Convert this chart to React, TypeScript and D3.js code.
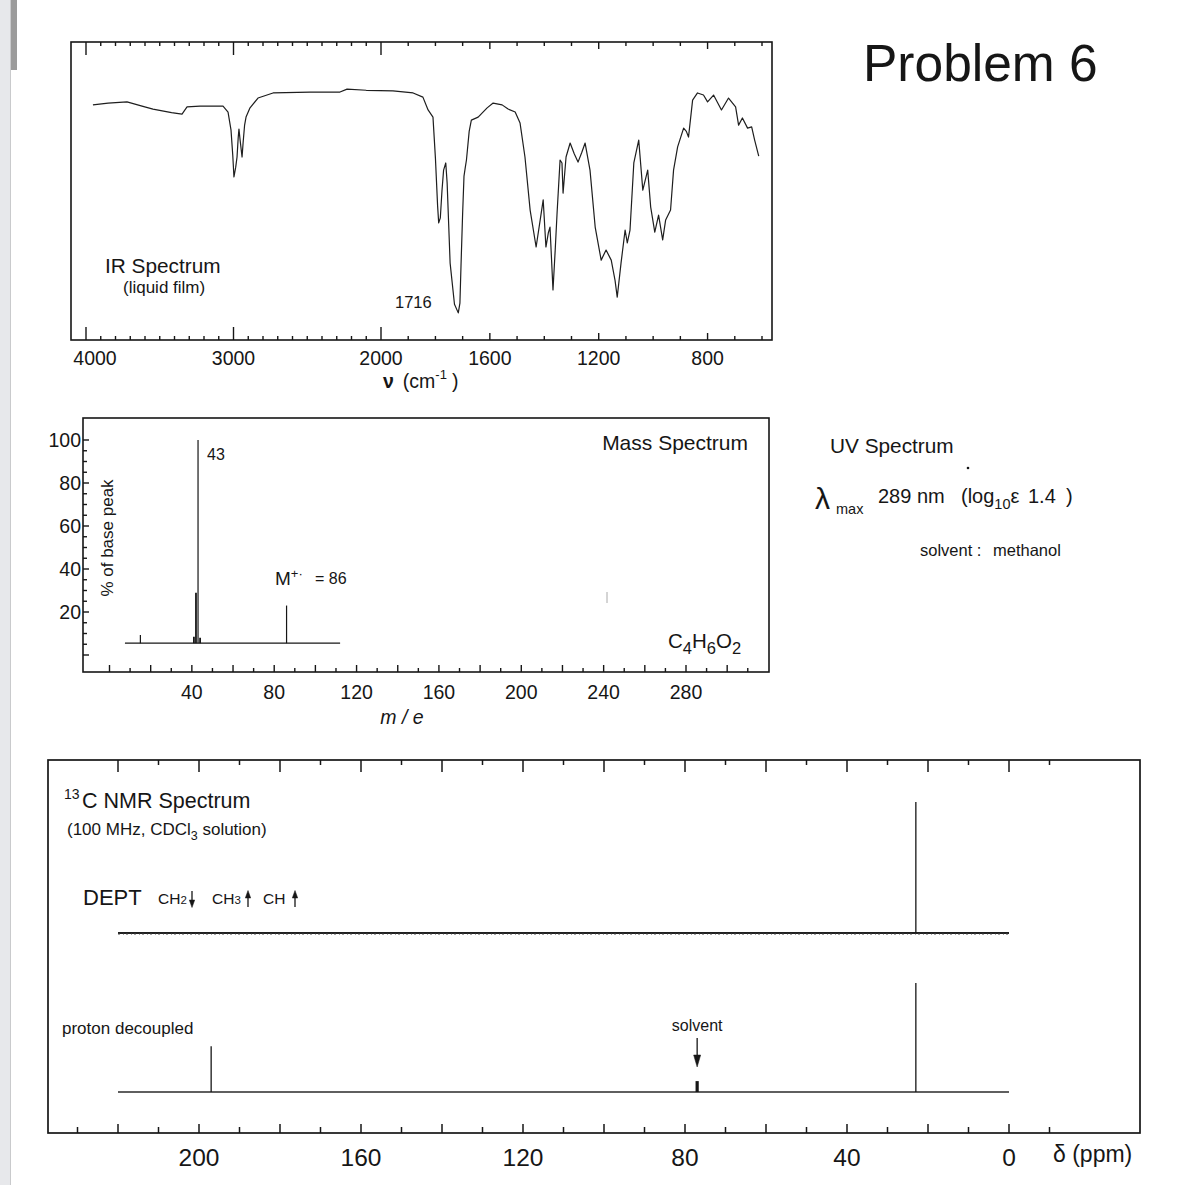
import React from "react";
import * as d3 from "d3";

// ---------- IR spectrum data (wavenumber cm-1, % transmittance) ----------
const irWavenumbers = [
  3953, 3850, 3722, 3620, 3546, 3420, 3349, 3315, 3227, 3071, 3037, 3017, 3005, 2997, 2985, 2976,
  2968, 2963, 2955, 2942, 2935, 2925, 2915, 2888, 2834, 2732, 2481, 2278, 2230, 2100, 1956, 1882,
  1846, 1827, 1809, 1800, 1792, 1788, 1782, 1776, 1770, 1762, 1757, 1746, 1730, 1716, 1710, 1706,
  1700, 1695, 1690, 1686, 1676, 1668, 1643, 1610, 1588, 1555, 1533, 1507, 1489, 1471, 1452, 1430,
  1415, 1404, 1394, 1385, 1379, 1368, 1360, 1353, 1342, 1335, 1331, 1320, 1305, 1290, 1276, 1262,
  1250, 1232, 1213, 1191, 1173, 1154, 1140, 1132, 1118, 1103, 1095, 1085, 1071, 1053, 1038, 1020,
  1009, 994, 980, 965, 954, 936, 925, 910, 888, 878, 870, 855, 837, 815, 800, 778, 749, 723, 697,
  686, 672, 653, 638, 627, 612,
];
const irTransmittance = [
  78.9, 79.5, 79.9, 78.5, 77.5, 76.3, 75.8, 78.2, 78.5, 78.5, 76.5, 70.5, 62, 54.7, 58, 61.4,
  68, 70.8, 67, 61.4, 66.1, 72, 74.8, 77.9, 81.2, 82.9, 83.2, 83.2, 84.2, 83.8, 83.6, 82.9,
  81.5, 77.2, 74.8, 61, 45, 39.3, 41, 50, 57.0, 59.4, 52.7, 25.8, 12, 9.1, 12.4, 25,
  42.6, 55, 58.1, 60.4, 70, 73.8, 74.8, 77.9, 79.5, 78.9, 77.5, 76.5, 72.8, 61.4, 43.6, 31.2,
  40.3, 47.0, 31.2, 36, 37.9, 16.8, 30, 42.6, 60.4, 59.4, 49.3, 61.4, 66.1, 62.5, 59.7, 63,
  66.1, 57.0, 37.9, 26.8, 30.2, 26.8, 20, 14.4, 25.8, 36.9, 32.6, 36.9, 59.4, 67.1, 50.3, 57.0,
  44.6, 36.2, 41.9, 33.6, 40.3, 43.6, 57.0, 64.8, 71.1, 70.0, 68.1, 80.5, 82.9, 82.2, 79.9, 82.2, 77.2, 81.2, 78.2,
  72.1, 74.5, 71.1, 71.5, 67.1, 61.7,
];
const irTickLabels = [4000, 3000, 2000, 1600, 1200, 800];
const irMajorTicks = [4000, 3000, 2000];
const irMediumTicks = [1600, 1200, 800];

// ---------- Mass spectrum data ----------
const msMz = [15, 41, 42, 43, 44, 86];
const msIntensity = [9.3, 8.5, 29, 100, 8, 23];
const msBaselineRange = [7.5, 112];
const msBaselineLevel = 5.5;
const msXTickLabels = [40, 80, 120, 160, 200, 240, 280];
const msYTickLabels = [20, 40, 60, 80, 100];

// ---------- 13C NMR data ----------
const nmrTickLabels = [200, 160, 120, 80, 40, 0];
const nmrBaselineRange = [220, 0];
const deptShifts = [23.0];
const deptIntensity = [100];
const decoupledShifts = [197.0, 77.0, 23.0];
const decoupledIntensity = [42, 10, 100];
const decoupledIsSolvent = [false, true, false];

const FONT = "'Liberation Sans', Arial, Helvetica, sans-serif";
const INK = "#161616";

export default function App() {
  // IR scales
  const irX = d3.scaleLinear().domain([4000, 2000, 600]).range([86, 381, 762]);
  const irY = d3.scaleLinear().domain([0, 100]).range([340, 42]);
  const irBox = { x0: 71, x1: 772, y0: 42, y1: 340 };
  const irLine = d3
    .line<[number, number]>()
    .x((d) => irX(d[0]))
    .y((d) => irY(d[1]));
  const irPath = irLine(irWavenumbers.map((w, i) => [w, irTransmittance[i]] as [number, number])) || "";
  const irTicks = d3.range(4000, 599, -100);

  // Mass spec scales
  const msX = d3.scaleLinear().domain([0, 280]).range([109.5, 686]);
  const msY = d3.scaleLinear().domain([0, 100]).range([655, 440]);
  const msBox = { x0: 83, x1: 769, y0: 418, y1: 672 };
  const msXTicks = d3.range(0, 311, 10);
  const msYTicks = d3.range(0, 101, 5);

  // NMR scales
  const nmrX = d3.scaleLinear().domain([200, 0]).range([199, 1009]);
  const deptY = d3.scaleLinear().domain([0, 100]).range([933, 802]);
  const decY = d3.scaleLinear().domain([0, 100]).range([1092, 983]);
  const nmrBox = { x0: 48, x1: 1140, y0: 760, y1: 1133 };
  const nmrBottomTicks = d3.range(230, -11, -10);
  const nmrTopTicks = d3.range(220, -11, -10);

  return (
    <svg
      width={1200}
      height={1185}
      viewBox="0 0 1200 1185"
      style={{ position: "absolute", left: 0, top: 0, background: "#fff" }}
      fontFamily={FONT}
    >
      <rect x={0} y={0} width={1200} height={1185} fill="#fff" />
      {/* scanner edge */}
      <rect x={0} y={0} width={10} height={1185} fill="#e7e8eb" />
      <line x1={10.5} x2={10.5} y1={0} y2={1185} stroke="#c9cacc" strokeWidth={1} />
      <rect x={11} y={0} width={6} height={70} fill="#222" opacity={0.45} />

      {/* Title */}
      <text x={863} y={81} fontSize={51.5} fill={INK}>Problem 6</text>

      {/* ================= IR ================= */}
      <rect x={irBox.x0} y={irBox.y0} width={irBox.x1 - irBox.x0} height={irBox.y1 - irBox.y0}
        fill="none" stroke={INK} strokeWidth={1.6} />
      {irTicks.map((t) => {
        const len = irMajorTicks.includes(t) ? 13 : irMediumTicks.includes(t) ? 7 : 4;
        const x = irX(t);
        return (
          <g key={"irt" + t}>
            <line x1={x} x2={x} y1={irBox.y0} y2={irBox.y0 + len} stroke={INK} strokeWidth={1.4} />
            <line x1={x} x2={x} y1={irBox.y1} y2={irBox.y1 - len} stroke={INK} strokeWidth={1.4} />
          </g>
        );
      })}
      <path d={irPath} fill="none" stroke="#1e1e1e" strokeWidth={1.2} strokeLinejoin="round" />
      {irTickLabels.map((t, i) => (
        <text key={"irl" + t} x={irX(t) + (i === 0 ? 9 : 0)} y={365} fontSize={19.5}
          textAnchor="middle" fill={INK}>{t}</text>
      ))}
      <text x={383} y={388} fontSize={19.5} fill={INK}>
        <tspan fontWeight="bold">ν</tspan>
        <tspan dx={9}>(cm</tspan>
        <tspan dy={-9} fontSize={13}>-1</tspan>
        <tspan dy={9} dx={5}>)</tspan>
      </text>
      <text x={105} y={273} fontSize={20.8} fill={INK}>IR Spectrum</text>
      <text x={123} y={293} fontSize={17} fill={INK}>(liquid film)</text>
      <text x={395} y={308} fontSize={16.5} fill={INK}>1716</text>

      {/* ================= Mass spectrum ================= */}
      <rect x={msBox.x0} y={msBox.y0} width={msBox.x1 - msBox.x0} height={msBox.y1 - msBox.y0}
        fill="none" stroke={INK} strokeWidth={1.6} />
      {msXTicks.map((t) => {
        const len = t % 20 === 0 ? 7 : 4;
        const x = msX(t);
        return <line key={"msx" + t} x1={x} x2={x} y1={msBox.y1} y2={msBox.y1 - len} stroke={INK} strokeWidth={1.4} />;
      })}
      {msYTicks.map((t) => {
        const len = t % 20 === 0 ? 6 : 4;
        const y = msY(t);
        return <line key={"msy" + t} x1={msBox.x0} x2={msBox.x0 + len} y1={y} y2={y} stroke={INK} strokeWidth={1.4} />;
      })}
      {msYTickLabels.map((t) => (
        <text key={"msyl" + t} x={81} y={msY(t) + 7} fontSize={19.5} textAnchor="end" fill={INK}>{t}</text>
      ))}
      {msXTickLabels.map((t) => (
        <text key={"msxl" + t} x={msX(t)} y={699} fontSize={19.5} textAnchor="middle" fill={INK}>{t}</text>
      ))}
      <text x={402} y={724} fontSize={19.5} fontStyle="italic" textAnchor="middle" fill={INK}>m / e</text>
      <text transform="translate(113,538) rotate(-90)" fontSize={17} textAnchor="middle" fill={INK}>% of base peak</text>
      <line x1={msX(msBaselineRange[0])} x2={msX(msBaselineRange[1])} y1={msY(msBaselineLevel)} y2={msY(msBaselineLevel)}
        stroke={INK} strokeWidth={1.3} />
      {msMz.map((m, i) => (
        <line key={"msp" + m} x1={msX(m)} x2={msX(m)} y1={msY(msBaselineLevel)} y2={msY(msIntensity[i])}
          stroke={INK} strokeWidth={m === 42 || m === 41 || m === 44 ? 1.8 : 1.2} />
      ))}
      <text x={207} y={460} fontSize={16} fill={INK}>43</text>
      <text x={275} y={585} fontSize={19} fill={INK}>
        M<tspan dy={-7} fontSize={13}>+·</tspan>
      </text>
      <text x={315} y={584} fontSize={16} fill={INK}>= 86</text>
      <text x={748} y={450} fontSize={21} textAnchor="end" fill={INK}>Mass Spectrum</text>
      <text x={668} y={648} fontSize={20.5} fill={INK}>
        C<tspan fontSize={16.5} dy={6}>4</tspan>
        <tspan dy={-6}>H</tspan>
        <tspan fontSize={16.5} dy={6}>6</tspan>
        <tspan dy={-6}>O</tspan>
        <tspan fontSize={16.5} dy={6}>2</tspan>
      </text>
      <line x1={607} x2={607} y1={592} y2={603} stroke="#aaa" strokeWidth={1} />

      {/* ================= UV ================= */}
      <text x={830} y={453} fontSize={20.8} fill={INK}>UV Spectrum</text>
      <circle cx={968} cy={468} r={1.3} fill={INK} />
      <text x={815} y={509} fontSize={30} fill={INK}>λ</text>
      <text x={836} y={514} fontSize={14.5} fill={INK}>max</text>
      <text x={878} y={503} fontSize={20} fill={INK}>
        289 nm
        <tspan x={961}>(log</tspan>
        <tspan fontSize={14.5} dy={6}>10</tspan>
        <tspan dy={-6}>ε</tspan>
        <tspan x={1028}>1.4</tspan>
        <tspan x={1066}>)</tspan>
      </text>
      <text x={920} y={556} fontSize={16.5} fill={INK}>
        solvent :<tspan x={993}>methanol</tspan>
      </text>

      {/* ================= 13C NMR ================= */}
      <rect x={nmrBox.x0} y={nmrBox.y0} width={nmrBox.x1 - nmrBox.x0} height={nmrBox.y1 - nmrBox.y0}
        fill="none" stroke={INK} strokeWidth={1.7} />
      {nmrTopTicks.map((t) => {
        const x = nmrX(t);
        const len = t % 20 === 0 ? 12 : 5;
        return <line key={"nt" + t} x1={x} x2={x} y1={nmrBox.y0} y2={nmrBox.y0 + len} stroke={INK} strokeWidth={1.5} />;
      })}
      {nmrBottomTicks.map((t) => {
        const x = nmrX(t);
        const len = t % 20 === 0 ? 9 : 6;
        return <line key={"nb" + t} x1={x} x2={x} y1={nmrBox.y1} y2={nmrBox.y1 - len} stroke={INK} strokeWidth={1.5} />;
      })}
      {nmrTickLabels.map((t) => (
        <text key={"nl" + t} x={nmrX(t)} y={1166} fontSize={24.5} textAnchor="middle" fill={INK}>{t}</text>
      ))}
      <text x={1053} y={1162} fontSize={23} fill={INK}>δ (ppm)</text>

      <text x={64} y={799} fontSize={14} fill={INK}>13</text>
      <text x={82} y={808} fontSize={21.5} fill={INK}>C NMR Spectrum</text>
      <text x={67} y={835} fontSize={17} fill={INK}>
        (100 MHz, CDCl<tspan fontSize={12.5} dy={5}>3</tspan>
        <tspan dy={-5}> solution)</tspan>
      </text>
      <text x={83} y={905} fontSize={22} fill={INK}>DEPT</text>
      <text x={158} y={904} fontSize={15.5} fill={INK}>
        CH<tspan fontSize={11.5}>2</tspan>
      </text>
      <text x={212} y={904} fontSize={15.5} fill={INK}>
        CH<tspan fontSize={11.5}>3</tspan>
      </text>
      <text x={263} y={904} fontSize={15.5} fill={INK}>CH</text>
      {/* DEPT arrows */}
      <g fill={INK} stroke={INK} strokeWidth={1.3}>
        <line x1={192} x2={192} y1={891} y2={902} />
        <path d="M189.3,900 L194.7,900 L192,907.5 Z" strokeWidth={0.5} />
        <line x1={248} x2={248} y1={896} y2={907} />
        <path d="M245.3,898 L250.7,898 L248,890.5 Z" strokeWidth={0.5} />
        <line x1={295} x2={295} y1={896} y2={907} />
        <path d="M292.3,898 L297.7,898 L295,890.5 Z" strokeWidth={0.5} />
      </g>

      {/* DEPT trace */}
      <line x1={nmrX(nmrBaselineRange[0])} x2={nmrX(nmrBaselineRange[1])} y1={deptY(0)} y2={deptY(0)}
        stroke="#202020" strokeWidth={1.8} />
      <line x1={nmrX(nmrBaselineRange[0])} x2={nmrX(nmrBaselineRange[1])} y1={deptY(0) + 1} y2={deptY(0) + 1}
        stroke="#444" strokeWidth={1} strokeDasharray="2 3 1 2" />
      {deptShifts.map((s, i) => (
        <line key={"dp" + s} x1={nmrX(s)} x2={nmrX(s)} y1={deptY(0)} y2={deptY(deptIntensity[i])}
          stroke={INK} strokeWidth={1.3} />
      ))}

      {/* proton decoupled trace */}
      <text x={62} y={1034} fontSize={17} fill={INK}>proton decoupled</text>
      <line x1={nmrX(nmrBaselineRange[0])} x2={nmrX(nmrBaselineRange[1])} y1={decY(0)} y2={decY(0)}
        stroke="#2a2a2a" strokeWidth={1.4} />
      {decoupledShifts.map((s, i) => (
        <line key={"cp" + s} x1={nmrX(s)} x2={nmrX(s)} y1={decY(0)} y2={decY(decoupledIntensity[i])}
          stroke={INK} strokeWidth={decoupledIsSolvent[i] ? 3.2 : 1.3} />
      ))}
      <text x={nmrX(77)} y={1031} fontSize={16} textAnchor="middle" fill={INK}>solvent</text>
      <g fill={INK} stroke={INK}>
        <line x1={nmrX(77)} x2={nmrX(77)} y1={1038} y2={1058} strokeWidth={1.3} />
        <path d={`M${nmrX(77) - 3.5},1055 L${nmrX(77) + 3.5},1055 L${nmrX(77)},1067 Z`} strokeWidth={0.5} />
      </g>
    </svg>
  );
}
